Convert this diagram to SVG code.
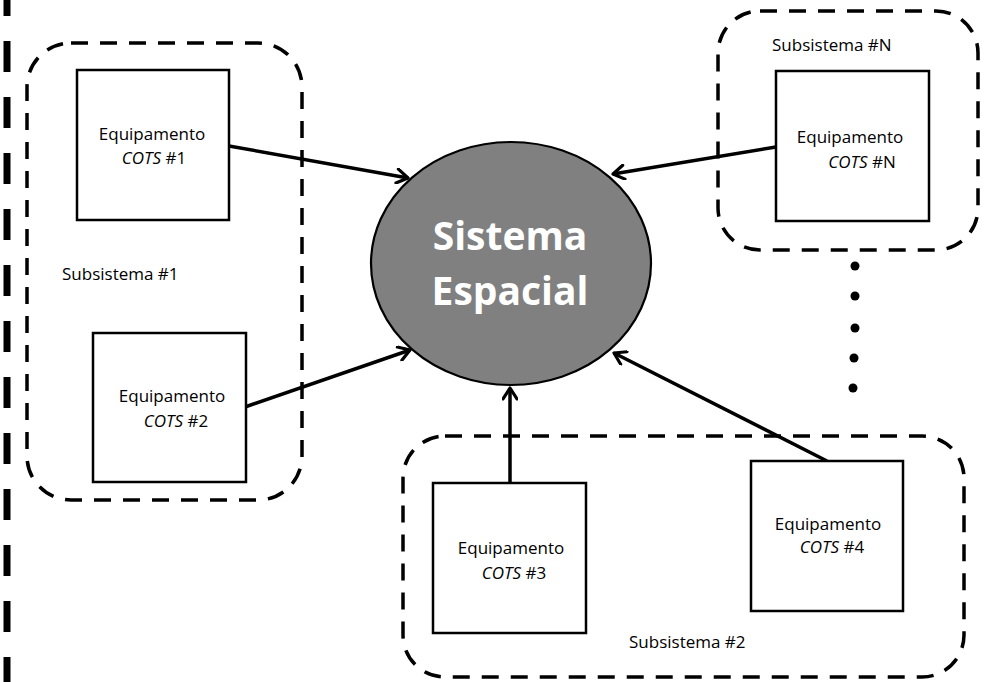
<svg xmlns="http://www.w3.org/2000/svg" width="986" height="682" viewBox="0 0 986 682">
<defs>
<style>
.sub{fill:none;stroke:#000;stroke-width:3.5;stroke-dasharray:17 12}
.eq{fill:#fff;stroke:#000;stroke-width:2.5}
.lbl{font-family:"Open Sans","Liberation Sans",sans-serif;font-size:17px;fill:#000}
.mid{text-anchor:middle}
.it{font-style:italic}
.con{fill:none;stroke:#000;stroke-width:3.5;marker-end:url(#arr)}
.dot{fill:#000}
</style>
<marker id="arr" viewBox="0 0 16 16" markerWidth="16" markerHeight="16" refX="14" refY="8" orient="auto" markerUnits="userSpaceOnUse">
<path d="M3,1 L14,8 L3,15" fill="none" stroke="#000" stroke-width="3.2" stroke-linecap="round" stroke-linejoin="round"/>
</marker>
</defs>
<rect width="986" height="682" fill="#fff"/>
<line x1="7" y1="0" x2="7" y2="682" stroke="#000" stroke-width="7" stroke-dasharray="31 25" stroke-dashoffset="15"/>

<g id="subsistema1">
<rect class="sub" x="27" y="43" width="275" height="457" rx="44" ry="44"/>
<text class="lbl" x="62" y="280">Subsistema #1</text>
</g>
<g id="subsistemaN">
<rect class="sub" x="718" y="11" width="260" height="239" rx="42" ry="42"/>
<text class="lbl" x="772" y="51">Subsistema #N</text>
</g>
<g id="subsistema2">
<rect class="sub" x="403" y="436" width="561" height="241" rx="42" ry="42"/>
<text class="lbl" x="629" y="648">Subsistema #2</text>
</g>

<g id="connectors">
<line class="con" x1="229" y1="146" x2="408" y2="178"/>
<line class="con" x1="245" y1="407" x2="410" y2="350"/>
<line class="con" x1="510" y1="483" x2="510" y2="388"/>
<line class="con" x1="827" y1="461" x2="614" y2="353"/>
<line class="con" x1="776" y1="147" x2="613" y2="174"/>
</g>

<g id="sistema-espacial">
<ellipse cx="511" cy="263.5" rx="140" ry="121.5" fill="#808080" stroke="#000" stroke-width="2.2"/>
<text x="510" y="250" text-anchor="middle" font-family="'Open Sans','Liberation Sans',sans-serif" font-size="39" font-weight="bold" fill="#fff">Sistema</text>
<text x="510" y="305" text-anchor="middle" font-family="'Open Sans','Liberation Sans',sans-serif" font-size="39" font-weight="bold" fill="#fff">Espacial</text>
</g>

<g id="cots1">
<rect class="eq" x="77" y="70" width="152" height="150"/>
<text class="lbl mid" x="152" y="140">Equipamento</text>
<text class="lbl mid" x="154" y="164"><tspan class="it">COTS</tspan> #1</text>
</g>
<g id="cots2">
<rect class="eq" x="93" y="333" width="153" height="149"/>
<text class="lbl mid" x="172" y="402">Equipamento</text>
<text class="lbl mid" x="176" y="427"><tspan class="it">COTS</tspan> #2</text>
</g>
<g id="cots3">
<rect class="eq" x="433" y="483" width="153" height="150"/>
<text class="lbl mid" x="511" y="554">Equipamento</text>
<text class="lbl mid" x="514" y="579"><tspan class="it">COTS</tspan> #3</text>
</g>
<g id="cots4">
<rect class="eq" x="751" y="461" width="152" height="150"/>
<text class="lbl mid" x="828" y="530">Equipamento</text>
<text class="lbl mid" x="832" y="553"><tspan class="it">COTS</tspan> #4</text>
</g>
<g id="cotsN">
<rect class="eq" x="776" y="71" width="153" height="150"/>
<text class="lbl mid" x="850" y="143">Equipamento</text>
<text class="lbl mid" x="862" y="168"><tspan class="it">COTS</tspan> #N</text>
</g>

<g id="ellipsis">
<circle class="dot" cx="855" cy="266" r="4.5"/>
<circle class="dot" cx="855" cy="296" r="4.5"/>
<circle class="dot" cx="855" cy="328" r="4.5"/>
<circle class="dot" cx="854" cy="358" r="4.5"/>
<circle class="dot" cx="853" cy="388" r="4.5"/>
</g>
</svg>
